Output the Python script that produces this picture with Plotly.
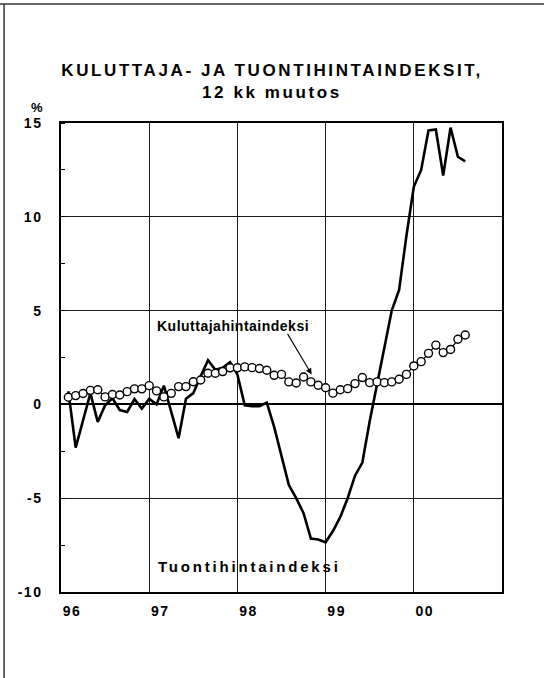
import plotly.graph_objects as go

# ---- data (12-month change, %, monthly Jan 1996 .. Jul 2000) ----
month_index = list(range(1, 56))
kuluttaja = [0.38, 0.47, 0.58, 0.75, 0.78, 0.40, 0.53, 0.50, 0.68, 0.83, 0.83, 1.00,
             0.72, 0.40, 0.59, 0.95, 0.95, 1.21, 1.30, 1.66, 1.66, 1.75, 1.95, 1.95,
             2.00, 1.96, 1.91, 1.82, 1.55, 1.60, 1.20, 1.14, 1.46, 1.20, 1.02, 0.89,
             0.60, 0.78, 0.84, 1.11, 1.43, 1.16, 1.20, 1.16, 1.20, 1.34, 1.60, 2.05,
             2.28, 2.72, 3.16, 2.76, 2.93, 3.47, 3.70]
tuonti = [0.70, -2.30, -0.85, 0.60, -0.93, -0.05, 0.33, -0.30, -0.40, 0.28, -0.22, 0.30,
          0.00, 1.00, -0.40, -1.80, 0.30, 0.60, 1.50, 2.35, 1.85, 1.95, 2.25, 1.60,
          -0.05, -0.10, -0.10, 0.10, -1.20, -2.75, -4.30, -5.00, -5.80, -7.15, -7.20, -7.35,
          -6.75, -6.00, -5.00, -3.80, -3.10, -0.90, 1.05, 2.85, 5.00, 6.10, 9.00, 11.60,
          12.50, 14.60, 14.65, 12.20, 14.75, 13.20, 12.95]

year_labels = ["96", "97", "98", "99", "00"]
year_label_pos = [1.5, 13.5, 25.5, 37.5, 49.5]
year_starts = [0, 12, 24, 36, 48, 60]
y_tick_vals = [-10, -5, 0, 5, 10, 15]
y_tick_text = ["-10", "-5", "0", "5", "10", "15"]

FONT = "Liberation Sans, Arial, sans-serif"


def spaced(s, px):
    return f'<span style="letter-spacing:{px}px">{s}</span>'


fig = go.Figure()

fig.add_trace(go.Scatter(
    x=month_index, y=tuonti, mode="lines",
    line=dict(color="black", width=2.6), name="Tuontihintaindeksi",
    hoverinfo="skip"))

fig.add_trace(go.Scatter(
    x=month_index, y=kuluttaja, mode="lines+markers",
    line=dict(color="black", width=1.2),
    marker=dict(symbol="circle", size=8, color="white",
                line=dict(color="black", width=1.4)),
    name="Kuluttajahintaindeksi", hoverinfo="skip"))

fig.update_layout(
    width=544, height=678,
    margin=dict(l=61, r=41.5, t=123, b=86, autoexpand=False),
    paper_bgcolor="white", plot_bgcolor="white",
    showlegend=False,
    font=dict(family=FONT, color="black"),
    title=dict(
        text="<b>" + spaced("KULUTTAJA- JA TUONTIHINTAINDEKSIT,", 2.6) + "</b>",
        x=0.5, xref="container", xanchor="center",
        y=1 - 70 / 678, yref="container", yanchor="middle",
        font=dict(family=FONT, size=17, color="black")),
)

# second title line
fig.add_annotation(
    text="<b>" + spaced("12 kk muutos", 2.6) + "</b>",
    xref="paper", yref="paper",
    x=(272 - 61) / 441.5, y=(592 - 93) / 469,
    xanchor="center", yanchor="middle", showarrow=False,
    font=dict(family=FONT, size=17, color="black"))

fig.update_xaxes(
    range=[0, 60],
    tickmode="array", tickvals=year_label_pos,
    ticktext=["<b>" + spaced(t, 1.5) + "</b>" for t in year_labels],
    ticks="", ticklabelstandoff=5,
    tickfont=dict(family=FONT, size=14, color="black"),
    showgrid=False, zeroline=False,
    showline=True, mirror=True, linecolor="black", linewidth=1.5,
    minor=dict(tickmode="array", tickvals=year_starts, showgrid=True,
               gridcolor="#1a1a1a", gridwidth=1, ticks=""),
)

fig.update_yaxes(
    range=[-10, 15],
    tickmode="array", tickvals=y_tick_vals,
    ticktext=["<b>" + spaced(t, 1.5) + "</b>" for t in y_tick_text],
    ticks="", ticklabelstandoff=14,
    tickfont=dict(family=FONT, size=14, color="black"),
    showgrid=True, gridcolor="#1a1a1a", gridwidth=1,
    zeroline=True, zerolinecolor="black", zerolinewidth=2.2,
    showline=True, mirror=True, linecolor="black", linewidth=1.5,
    minor=dict(dtick=2.5, tick0=0, ticks="inside", ticklen=4,
               tickcolor="black", tickwidth=1.2, showgrid=False),
)

# "%" unit label
fig.add_annotation(
    text="<b>%</b>", xref="paper", yref="paper",
    x=(37 - 61) / 441.5, y=(592 - 107) / 469,
    xanchor="center", yanchor="middle", showarrow=False,
    font=dict(family=FONT, size=13, color="black"))

# series labels
fig.add_annotation(
    text="<b>" + spaced("Kuluttajahintaindeksi", 0.5) + "</b>",
    x=23.4, y=4.18, xref="x", yref="y", showarrow=False,
    xanchor="center", yanchor="middle",
    font=dict(family=FONT, size=14, color="black"))
fig.add_annotation(
    text="", x=34.1, y=1.6, xref="x", yref="y",
    ax=-25, ay=-42, axref="pixel", ayref="pixel",
    showarrow=True, arrowhead=2, arrowsize=1.1, arrowwidth=1.1,
    arrowcolor="black")
fig.add_annotation(
    text="<b>" + spaced("Tuontihintaindeksi", 2.8) + "</b>",
    x=25.6, y=-8.64, xref="x", yref="y", showarrow=False,
    xanchor="center", yanchor="middle",
    font=dict(family=FONT, size=15, color="black"))

# page frame lines (top and left edge of the scanned page)
fig.add_shape(type="line", xref="paper", yref="paper",
              x0=-0.2, x1=1.2, y0=(592 - 4) / 469, y1=(592 - 4) / 469,
              line=dict(color="#333333", width=1.5))
fig.add_shape(type="line", xref="paper", yref="paper",
              x0=(4 - 61) / 441.5, x1=(4 - 61) / 441.5,
              y0=-0.2, y1=(592 - 4) / 469,
              line=dict(color="#333333", width=1.5))

fig.write_html(
    "out.html",
    config={"displayModeBar": False},
    post_script="document.body.style.margin='0';document.body.style.overflow='hidden';")
